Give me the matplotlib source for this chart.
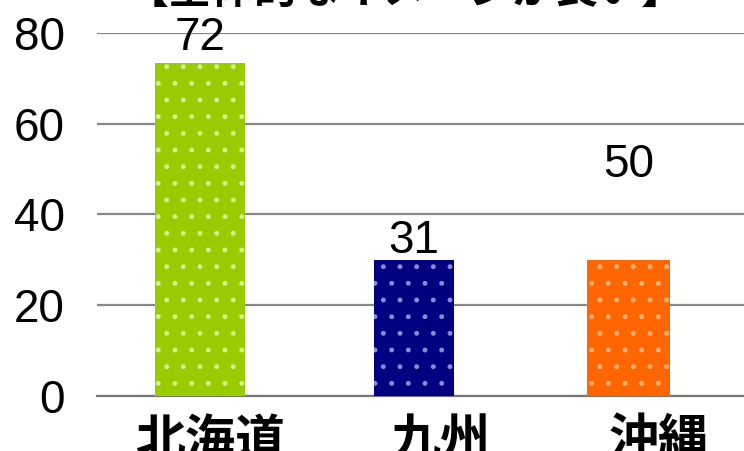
import matplotlib
matplotlib.use("Agg")
import matplotlib.pyplot as plt

# data
regions = ["北海道", "九州", "沖縄"]
bar_values = [73.4, 30, 30]
value_labels = ["72", "31", "50"]
label_heights = [76.2, 31.5, 48.3]
colors = ["#99cc00", "#000080", "#ff6600"]
dot_colors = ["#d6f08a", "#8a8ad6", "#ffb27a"]
bar_widths = [0.42, 0.37, 0.385]
label_shift = [0.05, 0.125, 0.14]
yticks = [0, 20, 40, 60, 80]

num_font = ["Liberation Sans", "DejaVu Sans"]
cjk_font = ["Noto Sans CJK JP", "DejaVu Sans"]

plt.rcParams["hatch.linewidth"] = 1.1

fig = plt.figure(figsize=(7.44, 4.51), dpi=100)
ax = fig.add_axes([0.130, 0.122, 0.870, 0.805])

x = list(range(len(regions)))
bars = ax.bar(x, bar_values, width=bar_widths, color=colors, zorder=3)
for b, dc in zip(bars, dot_colors):
    b.set_hatch(".")
    b.set_edgecolor(dc)
    b.set_linewidth(0)

for xi, lab, h in zip(x, value_labels, label_heights):
    ax.text(xi, h, lab, ha="center", va="baseline", fontsize=33,
            family=num_font, color="black", zorder=4)

ax.set_xlim(-0.48, 2.54)
ax.set_ylim(0, 80)
ax.set_yticks(yticks)
ax.set_yticklabels([str(v) for v in yticks], family=num_font, fontsize=33)
ax.tick_params(axis="y", length=0, pad=23)
ax.set_xticks([])

# category names sit a little right of the bar centres, as in the original
for xi, name, sh in zip(x, regions, label_shift):
    ax.annotate(name, xy=(xi + sh, 0), xycoords=("data", "axes fraction"),
                xytext=(0, -14), textcoords="offset points",
                ha="center", va="top", fontsize=36, fontweight="bold",
                family=cjk_font, annotation_clip=False)

ax.grid(axis="y", color="#888888", linewidth=1.6, zorder=0)
for s in ["top", "right", "left"]:
    ax.spines[s].set_visible(False)
ax.spines["bottom"].set_color("#777777")
ax.spines["bottom"].set_linewidth(1.6)
ax.spines["bottom"].set_zorder(2)

fig.text(0.544, 1.022, "【全体的なイメージが良い】", ha="center", va="center",
         fontsize=31, fontweight="bold", family=cjk_font)

fig.savefig("out.png", dpi=100)
